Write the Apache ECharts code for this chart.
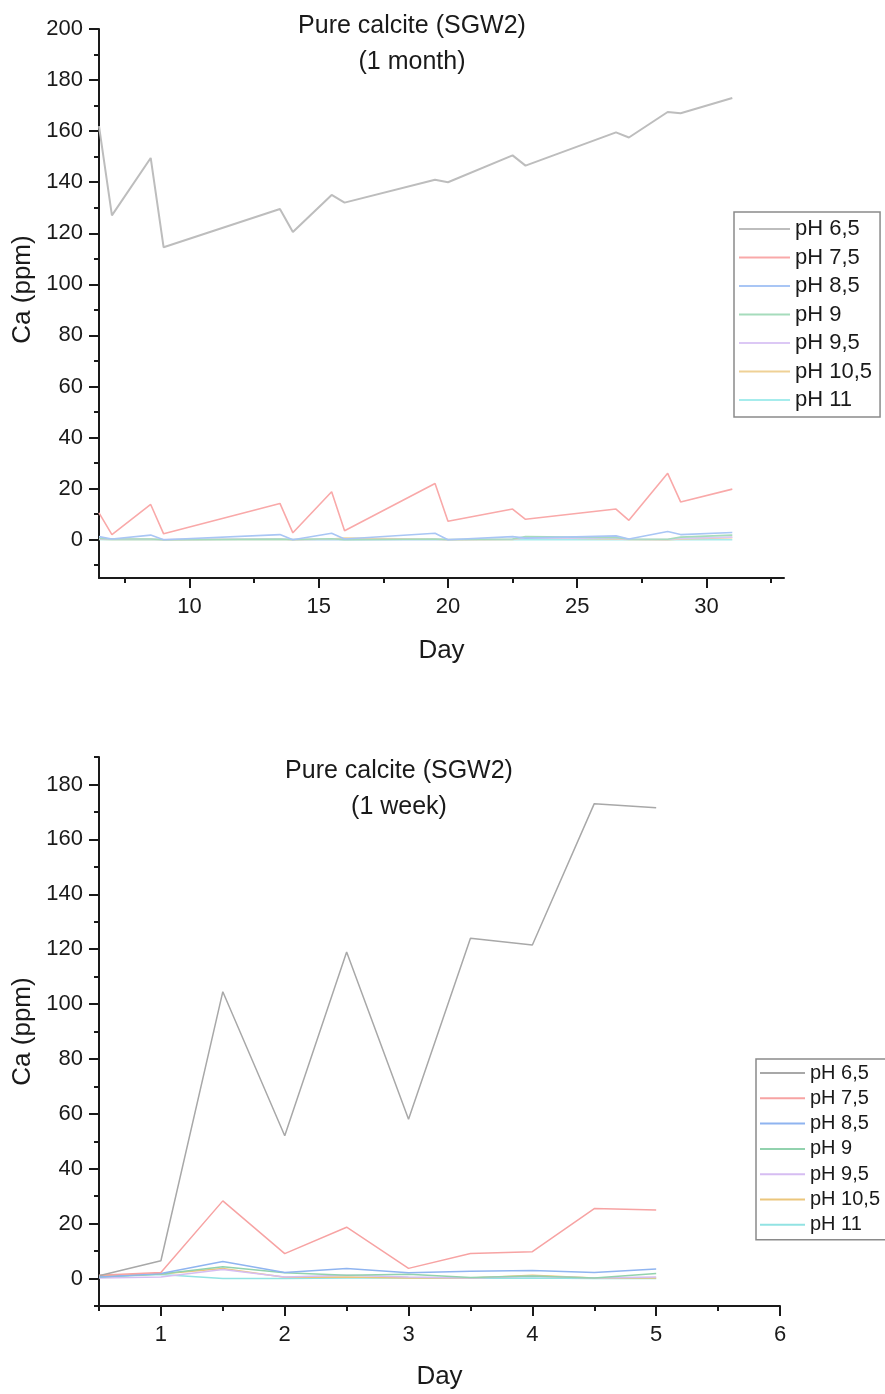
<!DOCTYPE html>
<html>
<head>
<meta charset="utf-8">
<title>Pure calcite (SGW2)</title>
<script src="https://cdn.jsdelivr.net/npm/echarts@6/dist/echarts.min.js"></script>
<style>
  html, body { margin: 0; padding: 0; background: #fff; }
  #chart { width: 885px; height: 1394px; }
</style>
</head>
<body>
<div id="chart"></div>
<script>
// ---- 1 month run: sampling days and Ca (ppm) per pH ----
const monthDays = [6.5, 7, 8.5, 9, 13.5, 14, 15.5, 16, 19.5, 20, 22.5, 23, 26.5, 27, 28.5, 29, 31];
const monthPH65  = [162, 127, 149.5, 114.5, 129.5, 120.5, 135, 132, 141, 140, 150.5, 146.5, 159.5, 157.5, 167.5, 167, 173];
const monthPH75  = [10.5, 2, 13.8, 2.3, 14.2, 2.7, 18.8, 3.5, 22, 7.2, 12, 8, 12, 7.6, 26, 14.8, 19.8];
const monthPH85  = [1.2, 0.3, 1.8, 0, 2, 0, 2.5, 0.3, 2.5, 0, 1.2, 0.6, 1.5, 0.3, 3.2, 2, 2.8];
const monthPH9   = [0.5, 0.3, 0.3, 0, 0.3, 0.1, 0.4, 0, 0.3, 0.1, 0.3, 1.2, 0.8, 0.3, 0.2, 1, 1.8];
const monthPH95  = [0.3, 0.2, 0.2, 0.1, 0.3, 0.1, 0.2, 0.1, 0.2, 0.1, 0.2, 0.8, 0.5, 0.2, 0.1, 0.5, 1];
const monthPH105 = [0.2, 0.1, 0.2, 0, 0.2, 0, 0.3, 0.6, 0.2, 0, 0.1, 0.9, 0.3, 0.1, 0, 0.3, 0.8];
const monthPH11  = [0.1, 0, 0, 0, 0, 0, 0, 0, 0, 0, 0, 0, 0, 0, 0, 0, 0];

// ---- 1 week run ----
const weekDays = [0.5, 1, 1.5, 2, 2.5, 3, 3.5, 4, 4.5, 5];
const weekPH65  = [1, 6.5, 104.5, 52, 119, 58, 124, 121.5, 173, 171.5];
const weekPH75  = [1.2, 2.2, 28.3, 9.1, 18.7, 3.7, 9.1, 9.8, 25.5, 25];
const weekPH85  = [0.6, 1.8, 6.2, 2.2, 3.7, 2.1, 2.7, 2.9, 2.2, 3.5];
const weekPH9   = [0.6, 1.7, 4.3, 2.1, 1.2, 1.6, 0.4, 0.9, 0.2, 1.8];
const weekPH95  = [0.2, 0.6, 3.3, 0.6, 1.2, 0.6, 0.2, 0.8, 0.2, 0.6];
const weekPH105 = [1, 1.7, 3.7, 0.5, 0.6, 0.2, 0.2, 1.2, 0.2, 0.2];
const weekPH11  = [0.6, 1.5, 0, 0, 0.2, 0.2, 0.1, 0.2, 0, 0];

const seriesNames = ['pH 6,5', 'pH 7,5', 'pH 8,5', 'pH 9', 'pH 9,5', 'pH 10,5', 'pH 11'];

// axis ticks and labels
const monthXMajor = [10, 15, 20, 25, 30];
const monthXMinor = [7.5, 12.5, 17.5, 22.5, 27.5, 32.5];
const monthYMajor = [0, 20, 40, 60, 80, 100, 120, 140, 160, 180, 200];
const monthYMinor = [-10, 10, 30, 50, 70, 90, 110, 130, 150, 170, 190];
const weekXMajor = [1, 2, 3, 4, 5, 6];
const weekXMinor = [0.5, 1.5, 2.5, 3.5, 4.5, 5.5];
const weekYMajor = [0, 20, 40, 60, 80, 100, 120, 140, 160, 180];
const weekYMinor = [-10, 10, 30, 50, 70, 90, 110, 130, 150, 170, 190];

const monthColors = ['#bdbdbd', '#f9a9a9', '#a9c6f5', '#a6dcbc', '#dcc8f5', '#efd196', '#a6ecec'];
const weekColors  = ['#a8a8a8', '#f7a3a3', '#8fb4f0', '#92d2ae', '#d6bdf2', '#ebc67c', '#92e3e3'];

const FONT = '"Liberation Sans", Arial, sans-serif';
const INK = '#1a1a1a';

const chart = echarts.init(document.getElementById('chart'), null, { renderer: 'canvas' });

function pairs(xs, ys) { return xs.map((x, i) => [x, ys[i]]); }

function majorAxis(gridIndex, position, min, max, major, labelMargin, extra) {
  return Object.assign({
    gridIndex, position, type: 'value', min, max,
    axisLine: { show: true, onZero: false, lineStyle: { color: INK, width: 2 } },
    axisTick: { show: true, customValues: major, length: 10, lineStyle: { color: INK, width: 2 } },
    axisLabel: { show: true, customValues: major, color: INK, fontSize: 22, fontFamily: FONT, margin: labelMargin },
    splitLine: { show: false }
  }, extra || {});
}
function minorAxis(gridIndex, position, min, max, minor) {
  return {
    gridIndex, position, offset: 0, type: 'value', min, max,
    axisLine: { show: false, onZero: false },
    axisTick: { show: true, customValues: minor, length: 5, lineStyle: { color: INK, width: 2 } },
    axisLabel: { show: false },
    splitLine: { show: false }
  };
}
function nameStyle(padding) {
  return { fontSize: 26, color: INK, fontFamily: FONT, padding: padding || 0 };
}

const monthData = [monthPH65, monthPH75, monthPH85, monthPH9, monthPH95, monthPH105, monthPH11];
const weekData  = [weekPH65, weekPH75, weekPH85, weekPH9, weekPH95, weekPH105, weekPH11];

const series = [];
monthData.forEach((vals, i) => {
  series.push({
    name: seriesNames[i], type: 'line', xAxisIndex: 0, yAxisIndex: 0,
    data: pairs(monthDays, vals), showSymbol: false, z: 10 - i,
    lineStyle: { color: monthColors[i], width: i === 0 ? 2 : 1.6 },
    itemStyle: { color: monthColors[i] }
  });
});
weekData.forEach((vals, i) => {
  series.push({
    name: seriesNames[i], type: 'line', xAxisIndex: 2, yAxisIndex: 2,
    data: pairs(weekDays, vals), showSymbol: false, z: 10 - i,
    lineStyle: { color: weekColors[i], width: 1.5 },
    itemStyle: { color: weekColors[i] }
  });
});

chart.setOption({
  animation: false,
  backgroundColor: '#fff',
  title: [
    { text: 'Pure calcite (SGW2)\n(1 month)', left: 407, top: 3, textAlign: 'center',
      textStyle: { fontSize: 25, fontWeight: 'normal', color: INK, fontFamily: FONT, lineHeight: 36 } },
    { text: 'Pure calcite (SGW2)\n(1 week)', left: 394, top: 748, textAlign: 'center',
      textStyle: { fontSize: 25, fontWeight: 'normal', color: INK, fontFamily: FONT, lineHeight: 36 } }
  ],
  grid: [
    { left: 99, top: 29, width: 685, height: 549 },
    { left: 99, top: 757, width: 681, height: 549 }
  ],
  xAxis: [
    majorAxis(0, 'bottom', 6.5, 33, monthXMajor, 18, {
      name: 'Day', nameLocation: 'middle', nameGap: 60, nameTextStyle: nameStyle() }),
    minorAxis(0, 'bottom', 6.5, 33, monthXMinor),
    majorAxis(1, 'bottom', 0.5, 6, weekXMajor, 18, {
      name: 'Day', nameLocation: 'middle', nameGap: 58, nameTextStyle: nameStyle() }),
    minorAxis(1, 'bottom', 0.5, 6, weekXMinor)
  ],
  yAxis: [
    majorAxis(0, 'left', -15, 200, monthYMajor, 16, {
      name: 'Ca (ppm)', nameLocation: 'middle', nameGap: 50, nameTextStyle: nameStyle([0, 0, 0, 28]) }),
    minorAxis(0, 'left', -15, 200, monthYMinor),
    majorAxis(1, 'left', -10, 190, weekYMajor, 16, {
      name: 'Ca (ppm)', nameLocation: 'middle', nameGap: 50, nameTextStyle: nameStyle() }),
    minorAxis(1, 'left', -10, 190, weekYMinor)
  ],
  legend: [
    { orient: 'vertical', left: 734, top: 212, icon: 'rect', itemWidth: 51, itemHeight: 2,
      itemGap: 6.5, padding: [6, 8, 6, 5], selectedMode: false,
      borderColor: '#8a8a8a', borderWidth: 1.5,
      textStyle: { fontSize: 22, lineHeight: 21, color: INK, fontFamily: FONT },
      data: seriesNames.map((n, i) => ({ name: n, itemStyle: { color: monthColors[i] } })) },
    { orient: 'vertical', left: 756, top: 1059, icon: 'rect', itemWidth: 45, itemHeight: 2,
      itemGap: 5.3, padding: [4, 14, 5, 4], selectedMode: false,
      borderColor: '#8a8a8a', borderWidth: 1.5,
      textStyle: { fontSize: 20, lineHeight: 19, color: INK, fontFamily: FONT },
      data: seriesNames.map((n, i) => ({ name: n, itemStyle: { color: weekColors[i] } })) }
  ],
  series
});
</script>
</body>
</html>
